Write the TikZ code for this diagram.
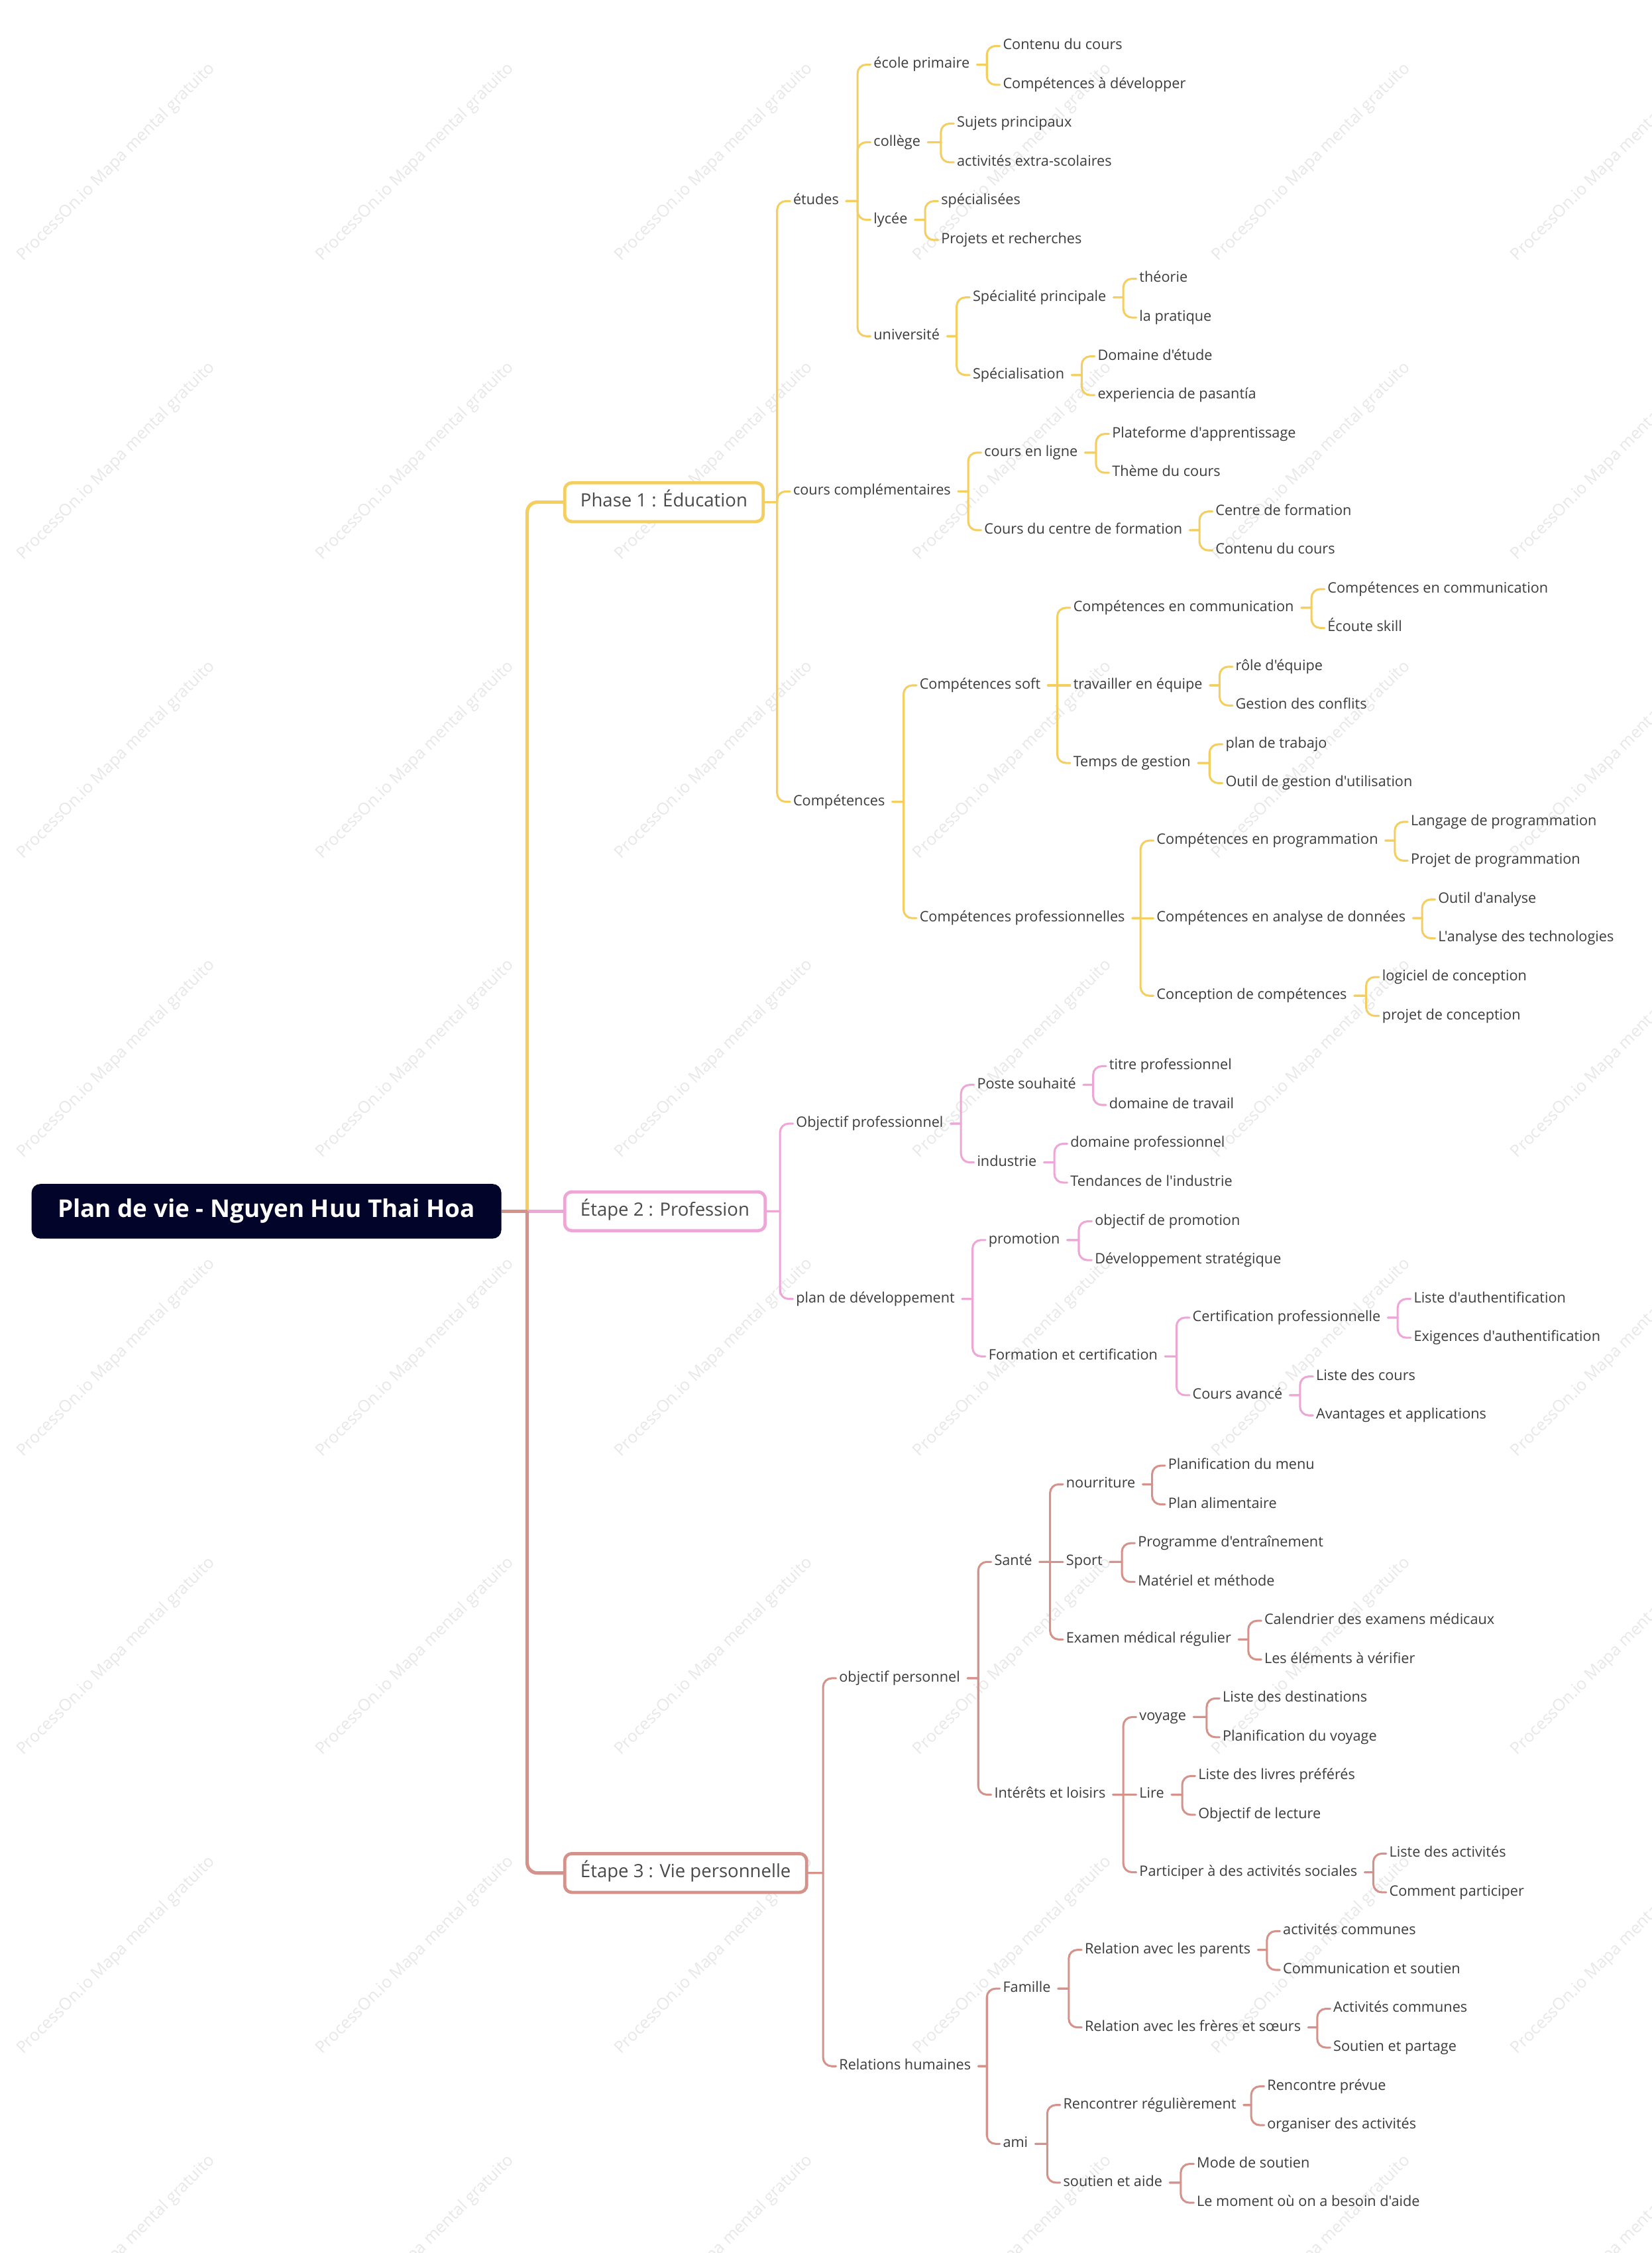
\documentclass[tikz,border=0pt]{standalone}
\usepackage{fontspec}
\setmainfont{Open Sans}[Ligatures=TeXOff]
\usepackage{tikz}
\usetikzlibrary{calc}

\definecolor{lineyel}{HTML}{F4CF5F}
\definecolor{linepink}{HTML}{EDA6D6}
\definecolor{linebrown}{HTML}{D4928B}
\definecolor{inktext}{HTML}{3C3C3C}
\definecolor{boxtext}{HTML}{4A4A4A}
\definecolor{rootnavy}{HTML}{03042A}

\tikzset{
  leaf/.style={anchor=west, inner sep=0pt, text=inktext,
    font=\fontsize{10}{12}\selectfont, text height=7.5pt, text depth=2.5pt},
  phasebox/.style={anchor=west, draw, fill=white, line width=2.2pt,
    rounded corners=5pt, inner xsep=11pt, inner ysep=0pt, minimum height=27pt,
    text=boxtext, font=\fontsize{12.7}{15}\selectfont, text height=9.5pt, text depth=3pt},
  rootbox/.style={fill=rootnavy, rounded corners=6pt, text=white,
    font=\bfseries\fontsize{17}{20}\selectfont, minimum width=327pt,
    minimum height=38pt, inner sep=0pt},
  branch/.style={line width=1.4pt, line cap=round},
  trunk/.style={line width=2.4pt},
  wmark/.style={rotate=45, text=black!9, font=\fontsize{11.5}{13}\selectfont, inner sep=0pt},
}

% parent -> bar -> child (bar sits 11pt left of the child text)
\newcommand{\link}[3][5]{%
  \draw[branch, rounded corners=6pt] let \p1=(#2.east), \p2=(#3.west) in
    (\x1+#1pt,\y1) -- (\x2-11pt,\y1)
    (\x2-11pt,\y1) -- (\x2-11pt,\y2) -- (\x2-2pt,\y2);}
% child on the same line as its parent
\newcommand{\linkmid}[3][5]{%
  \draw[branch] let \p1=(#2.east), \p2=(#3.west) in
    (\x1+#1pt,\y1) -- (\x2-2pt,\y2);}

\begin{document}
\begin{tikzpicture}[x=1pt, y=-1pt]

\fill[white] (0,0) rectangle (1150,1568);
\useasboundingbox (0,0) rectangle (1150,1568);

%% ── Watermark grid ───────────────────────────────────────────────────────────
\foreach \i in {0,...,5}{
  \foreach \j in {0,...,7}{
    \node[wmark] (wm\i\j) at (81+208*\i, 113+208*\j) {ProcessOn.io Mapa mental gratuito};
  }
}

\begin{scope}[yshift=-2pt]
%% ── Root and phases ──────────────────────────────────────────────────────────
\node[rootbox] (root) at (185.5,841) {Plan de vie - Nguyen Huu Thai Hoa};
\node[phasebox, draw=lineyel]   (p1) at (392,347.5)  {Phase 1 : Éducation};
\node[phasebox, draw=linepink]  (p2) at (392,841)    {Étape 2 : Profession};
\node[phasebox, draw=linebrown] (p3) at (392,1301.5) {Étape 3 : Vie personnelle};

\coordinate (hub) at (367,841);
\draw[trunk, lineyel, rounded corners=7pt] (hub) |- (p1.west);
\draw[trunk, linepink] (root.east) -- (p2.west);
\draw[trunk, linebrown, rounded corners=7pt] (hub) |- (p3.west);
\draw[trunk, linebrown] (root.east) -- (hub);

%% ── Phase 1 : Éducation ──────────────────────────────────────────────────────
\node[leaf] (etudes) at (552,138) {études};
\node[leaf] (coursc) at (552,340) {cours complémentaires};
\node[leaf] (comp)   at (552,556) {Compétences};

\node[leaf] (ecole)   at (608,43)  {école primaire};
\node[leaf] (college) at (608,97)  {collège};
\node[leaf] (lycee)   at (608,151) {lycée};
\node[leaf] (univ)    at (608,232) {université};
\node[leaf] (ecA) at (698,30)  {Contenu du cours};
\node[leaf] (ecB) at (698,57)  {Compétences à développer};
\node[leaf] (coA) at (666,84)  {Sujets principaux};
\node[leaf] (coB) at (666,111) {activités extra-scolaires};
\node[leaf] (lyA) at (655,138) {spécialisées};
\node[leaf] (lyB) at (655,165) {Projets et recherches};
\node[leaf] (unA) at (677,205) {Spécialité principale};
\node[leaf] (unB) at (677,259) {Spécialisation};
\node[leaf] (unAa) at (793,192) {théorie};
\node[leaf] (unAb) at (793,219) {la pratique};
\node[leaf] (unBa) at (764,246) {Domaine d'étude};
\node[leaf] (unBb) at (764,273) {experiencia de pasantía};

\node[leaf] (enligne) at (685,313) {cours en ligne};
\node[leaf] (centre)  at (685,367) {Cours du centre de formation};
\node[leaf] (elA) at (774,300) {Plateforme d'apprentissage};
\node[leaf] (elB) at (774,327) {Thème du cours};
\node[leaf] (ceA) at (846,354) {Centre de formation};
\node[leaf] (ceB) at (846,381) {Contenu du cours};

\node[leaf] (soft)   at (640,475) {Compétences soft};
\node[leaf] (pro)    at (640,637) {Compétences professionnelles};
\node[leaf] (comm)   at (747,421) {Compétences en communication};
\node[leaf] (equipe) at (747,475) {travailler en équipe};
\node[leaf] (temps)  at (747,529) {Temps de gestion};
\node[leaf] (cmA) at (924,408) {Compétences en communication};
\node[leaf] (cmB) at (924,435) {Écoute skill};
\node[leaf] (eqA) at (860,462) {rôle d'équipe};
\node[leaf] (eqB) at (860,489) {Gestion des conflits};
\node[leaf] (tgA) at (853,516) {plan de trabajo};
\node[leaf] (tgB) at (853,543) {Outil de gestion d'utilisation};
\node[leaf] (prog)   at (805,583) {Compétences en programmation};
\node[leaf] (anal)   at (805,637) {Compétences en analyse de données};
\node[leaf] (concep) at (805,691) {Conception de compétences};
\node[leaf] (pgA) at (982,570)  {Langage de programmation};
\node[leaf] (pgB) at (982,597)  {Projet de programmation};
\node[leaf] (anA) at (1001,624) {Outil d'analyse};
\node[leaf] (anB) at (1001,651) {L'analyse des technologies};
\node[leaf] (cpA) at (962,678)  {logiciel de conception};
\node[leaf] (cpB) at (962,705)  {projet de conception};

\begin{scope}[branch/.append style={draw=lineyel}]
  \link[0]{p1}{etudes} \link[0]{p1}{coursc} \link[0]{p1}{comp}
  \link{etudes}{ecole} \link{etudes}{college} \link{etudes}{lycee} \link{etudes}{univ}
  \link{ecole}{ecA} \link{ecole}{ecB}
  \link{college}{coA} \link{college}{coB}
  \link{lycee}{lyA} \link{lycee}{lyB}
  \link{univ}{unA} \link{univ}{unB}
  \link{unA}{unAa} \link{unA}{unAb}
  \link{unB}{unBa} \link{unB}{unBb}
  \link{coursc}{enligne} \link{coursc}{centre}
  \link{enligne}{elA} \link{enligne}{elB}
  \link{centre}{ceA} \link{centre}{ceB}
  \link{comp}{soft} \link{comp}{pro}
  \link{soft}{comm} \linkmid{soft}{equipe} \link{soft}{temps}
  \link{comm}{cmA} \link{comm}{cmB}
  \link{equipe}{eqA} \link{equipe}{eqB}
  \link{temps}{tgA} \link{temps}{tgB}
  \link{pro}{prog} \linkmid{pro}{anal} \link{pro}{concep}
  \link{prog}{pgA} \link{prog}{pgB}
  \link{anal}{anA} \link{anal}{anB}
  \link{concep}{cpA} \link{concep}{cpB}
\end{scope}

%% ── Étape 2 : Profession ─────────────────────────────────────────────────────
\node[leaf] (objpro)  at (554,780) {Objectif professionnel};
\node[leaf] (plandev) at (554,902) {plan de développement};
\node[leaf] (poste) at (680,753) {Poste souhaité};
\node[leaf] (indus) at (680,807) {industrie};
\node[leaf] (poA) at (772,740) {titre professionnel};
\node[leaf] (poB) at (772,767) {domaine de travail};
\node[leaf] (inA) at (745,794) {domaine professionnel};
\node[leaf] (inB) at (745,821) {Tendances de l'industrie};
\node[leaf] (promo) at (688,861) {promotion};
\node[leaf] (forma) at (688,942) {Formation et certification};
\node[leaf] (prA) at (762,848) {objectif de promotion};
\node[leaf] (prB) at (762,875) {Développement stratégique};
\node[leaf] (certif) at (830,915) {Certification professionnelle};
\node[leaf] (avance) at (830,969) {Cours avancé};
\node[leaf] (ctA) at (984,902) {Liste d'authentification};
\node[leaf] (ctB) at (984,929) {Exigences d'authentification};
\node[leaf] (avA) at (916,956) {Liste des cours};
\node[leaf] (avB) at (916,983) {Avantages et applications};

\begin{scope}[branch/.append style={draw=linepink}]
  \link[0]{p2}{objpro} \link[0]{p2}{plandev}
  \link{objpro}{poste} \link{objpro}{indus}
  \link{poste}{poA} \link{poste}{poB}
  \link{indus}{inA} \link{indus}{inB}
  \link{plandev}{promo} \link{plandev}{forma}
  \link{promo}{prA} \link{promo}{prB}
  \link{forma}{certif} \link{forma}{avance}
  \link{certif}{ctA} \link{certif}{ctB}
  \link{avance}{avA} \link{avance}{avB}
\end{scope}

%% ── Étape 3 : Vie personnelle ────────────────────────────────────────────────
\node[leaf] (objper) at (584,1166) {objectif personnel};
\node[leaf] (relat)  at (584,1436) {Relations humaines};
\node[leaf] (sante)   at (692,1085) {Santé};
\node[leaf] (loisirs) at (692,1247) {Intérêts et loisirs};
\node[leaf] (nourr)  at (742,1031) {nourriture};
\node[leaf] (sport)  at (742,1085) {Sport};
\node[leaf] (examen) at (742,1139) {Examen médical régulier};
\node[leaf] (nuA) at (813,1018) {Planification du menu};
\node[leaf] (nuB) at (813,1045) {Plan alimentaire};
\node[leaf] (spA) at (792,1072) {Programme d'entraînement};
\node[leaf] (spB) at (792,1099) {Matériel et méthode};
\node[leaf] (exA) at (880,1126) {Calendrier des examens médicaux};
\node[leaf] (exB) at (880,1153) {Les éléments à vérifier};
\node[leaf] (voyage) at (793,1193) {voyage};
\node[leaf] (lire)   at (793,1247) {Lire};
\node[leaf] (partic) at (793,1301) {Participer à des activités sociales};
\node[leaf] (voA) at (851,1180) {Liste des destinations};
\node[leaf] (voB) at (851,1207) {Planification du voyage};
\node[leaf] (liA) at (834,1234) {Liste des livres préférés};
\node[leaf] (liB) at (834,1261) {Objectif de lecture};
\node[leaf] (paA) at (967,1288) {Liste des activités};
\node[leaf] (paB) at (967,1315) {Comment participer};
\node[leaf] (famille) at (698,1382) {Famille};
\node[leaf] (ami)     at (698,1490) {ami};
\node[leaf] (parents) at (755,1355) {Relation avec les parents};
\node[leaf] (freres)  at (755,1409) {Relation avec les frères et sœurs};
\node[leaf] (paRa) at (893,1342) {activités communes};
\node[leaf] (paRb) at (893,1369) {Communication et soutien};
\node[leaf] (frA)  at (928,1396) {Activités communes};
\node[leaf] (frB)  at (928,1423) {Soutien et partage};
\node[leaf] (rencontre) at (740,1463) {Rencontrer régulièrement};
\node[leaf] (soutien)   at (740,1517) {soutien et aide};
\node[leaf] (reA) at (882,1450) {Rencontre prévue};
\node[leaf] (reB) at (882,1477) {organiser des activités};
\node[leaf] (soA) at (833,1504) {Mode de soutien};
\node[leaf] (soB) at (833,1531) {Le moment où on a besoin d'aide};

\begin{scope}[branch/.append style={draw=linebrown}]
  \link[0]{p3}{objper} \link[0]{p3}{relat}
  \link{objper}{sante} \link{objper}{loisirs}
  \link{sante}{nourr} \linkmid{sante}{sport} \link{sante}{examen}
  \link{nourr}{nuA} \link{nourr}{nuB}
  \link{sport}{spA} \link{sport}{spB}
  \link{examen}{exA} \link{examen}{exB}
  \link{loisirs}{voyage} \linkmid{loisirs}{lire} \link{loisirs}{partic}
  \link{voyage}{voA} \link{voyage}{voB}
  \link{lire}{liA} \link{lire}{liB}
  \link{partic}{paA} \link{partic}{paB}
  \link{relat}{famille} \link{relat}{ami}
  \link{famille}{parents} \link{famille}{freres}
  \link{parents}{paRa} \link{parents}{paRb}
  \link{freres}{frA} \link{freres}{frB}
  \link{ami}{rencontre} \link{ami}{soutien}
  \link{rencontre}{reA} \link{rencontre}{reB}
  \link{soutien}{soA} \link{soutien}{soB}
\end{scope}
\end{scope}

\end{tikzpicture}
\end{document}
